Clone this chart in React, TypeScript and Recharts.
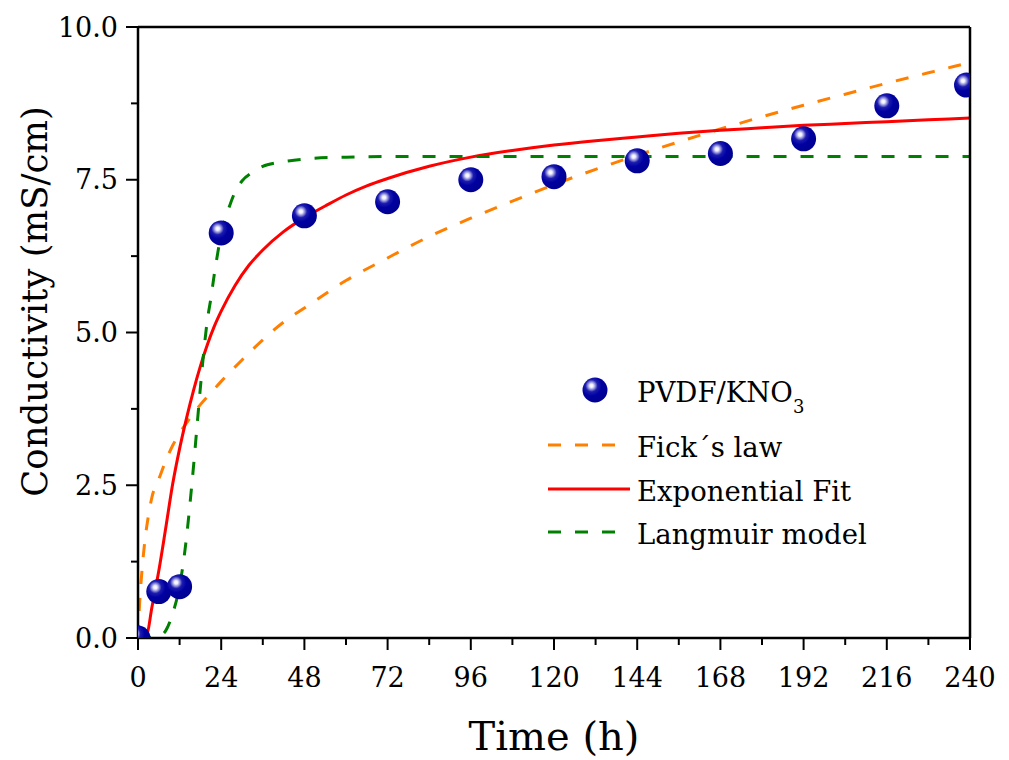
import React from 'react'
import { ComposedChart, Line, XAxis, YAxis, Legend } from 'recharts'

// measured conductivity, PVDF/KNO3
const sampleTime = [0, 6, 12, 24, 48, 72, 96, 120, 144, 168, 192, 216, 239]
const sampleCond = [0, 0.76, 0.84, 6.63, 6.91, 7.14, 7.5, 7.55, 7.81, 7.93, 8.17, 8.71, 9.05]

// Fick's law curve
const fickTime = [0, 0.5, 1, 2, 3, 4, 6, 8, 10, 12, 15, 18, 21, 24, 30, 36, 42, 48, 60, 72, 84, 96, 108, 120, 132, 144, 156, 168, 180, 192, 204, 216, 228, 240]
const fickCond = [0, 0.6, 1.0, 1.6, 2.0, 2.3, 2.6, 2.9, 3.15, 3.35, 3.6, 3.82, 4.01, 4.2, 4.55, 4.88, 5.17, 5.4, 5.85, 6.22, 6.57, 6.87, 7.15, 7.42, 7.67, 7.9, 8.12, 8.33, 8.53, 8.72, 8.9, 9.08, 9.25, 9.42]

// exponential fit
const expTime = [0, 2.5, 4, 6, 8, 10, 12, 14, 16, 18, 20, 22, 24, 28, 32, 36, 42, 48, 54, 60, 66, 72, 84, 96, 108, 120, 132, 144, 156, 168, 180, 192, 204, 216, 228, 240]
const expCond = [0, 0.05, 0.5, 1.1, 1.8, 2.52, 3.1, 3.6, 4.05, 4.45, 4.8, 5.1, 5.35, 5.77, 6.1, 6.35, 6.65, 6.88, 7.07, 7.25, 7.4, 7.52, 7.72, 7.87, 7.98, 8.07, 8.14, 8.2, 8.26, 8.31, 8.35, 8.39, 8.42, 8.45, 8.48, 8.51]

// Langmuir model
const langTime = [0, 4, 6, 8, 10, 12, 13, 14, 15, 16, 17, 18, 19, 20, 21, 22, 23, 24, 26, 28, 30, 33, 36, 40, 45, 50, 60, 72, 96, 120, 144, 168, 192, 216, 240]
const langCond = [0, 0.01, 0.03, 0.12, 0.4, 0.85, 1.2, 1.65, 2.2, 2.8, 3.45, 4.1, 4.7, 5.2, 5.55, 5.95, 6.3, 6.62, 7.0, 7.3, 7.48, 7.62, 7.72, 7.78, 7.82, 7.85, 7.87, 7.88, 7.88, 7.88, 7.88, 7.88, 7.88, 7.88, 7.88]

const xTicks = [0, 12, 24, 36, 48, 60, 72, 84, 96, 108, 120, 132, 144, 156, 168, 180, 192, 204, 216, 228, 240]
const xTopTicks = [0, 24, 48, 72, 96, 120, 144, 168, 192, 216, 240]
const yTicks = [0, 1.25, 2.5, 3.75, 5, 6.25, 7.5, 8.75, 10]
const yRightTicks = [0, 1, 2, 3, 4, 5, 6, 7, 8, 9, 10]

const FONT = "'DejaVu Serif', serif"
const TICK_MAJOR = 12
const TICK_MINOR = 7
const Y_TICK_MARGIN = 8

const toPoints = (ts: number[], vs: number[]) => ts.map((t, i) => ({ t, v: vs[i] }))

const samplePts = toPoints(sampleTime, sampleCond)
const fickPts = toPoints(fickTime, fickCond)
const expPts = toPoints(expTime, expCond)
const langPts = toPoints(langTime, langCond)

function SphereDefs({ id }: { id: string }) {
  return (
    <defs>
      <radialGradient id={id} cx='36%' cy='33%' r='68%' fx='36%' fy='33%'>
        <stop offset='0%' stopColor='#ffffff' />
        <stop offset='10%' stopColor='#eeeeff' />
        <stop offset='22%' stopColor='#9090dc' />
        <stop offset='36%' stopColor='#1c1cae' />
        <stop offset='60%' stopColor='#0000a2' />
        <stop offset='100%' stopColor='#000090' />
      </radialGradient>
    </defs>
  )
}

function Sphere(props: any) {
  const { cx, cy, index } = props
  if (cx == null || cy == null) return null
  return <circle key={`s-${index}`} cx={cx} cy={cy} r={12.5} fill='url(#sphereGrad)' />
}

function LeftTick(props: any) {
  const { x, y, payload } = props
  const major = Math.abs(payload.value % 2.5) < 1e-6
  const axisX = x + Y_TICK_MARGIN + TICK_MAJOR
  return (
    <g>
      <line
        x1={axisX - (major ? TICK_MAJOR : TICK_MINOR)}
        x2={axisX}
        y1={y}
        y2={y}
        stroke='#000'
        strokeWidth={2}
      />
      {major && (
        <text x={x} y={y} dy='0.36em' textAnchor='end' fontSize={27} fontFamily={FONT} fill='#000'>
          {payload.value.toFixed(1)}
        </text>
      )}
    </g>
  )
}

function BottomTick(props: any) {
  const { x, y, payload } = props
  const major = payload.value % 24 === 0
  const axisY = y - TICK_MAJOR
  return (
    <g>
      <line
        x1={x}
        x2={x}
        y1={axisY}
        y2={axisY + (major ? TICK_MAJOR : TICK_MINOR)}
        stroke='#000'
        strokeWidth={2}
      />
      {major && (
        <text x={x} y={axisY + 49} textAnchor='middle' fontSize={27} fontFamily={FONT} fill='#000'>
          {payload.value}
        </text>
      )}
    </g>
  )
}

function XTitle(props: any) {
  const { viewBox } = props
  return (
    <text
      x={viewBox.x + viewBox.width / 2}
      y={viewBox.y + 112}
      textAnchor='middle'
      fontSize={40}
      fontFamily={FONT}
      fill='#000'
    >
      Time (h)
    </text>
  )
}

function YTitle(props: any) {
  const { viewBox } = props
  const cx = viewBox.x + 47
  const cy = viewBox.y + viewBox.height / 2 - 31
  return (
    <text
      x={cx}
      y={cy}
      transform={`rotate(-90 ${cx} ${cy})`}
      textAnchor='middle'
      fontSize={35.5}
      fontFamily={FONT}
      fill='#000'
    >
      Conductivity (mS/cm)
    </text>
  )
}

function ChartLegend() {
  const txt = { fontSize: 27.5, fontFamily: FONT, fill: '#000' }
  return (
    <svg width={440} height={190}>
      <SphereDefs id='sphereGradLegend' />
      <circle cx={55} cy={21} r={12.5} fill='url(#sphereGradLegend)' />
      <text x={97} y={33} {...txt}>
        PVDF/KNO<tspan fontSize={18} dy={11}>3</tspan>
      </text>
      <line x1={8} x2={78} y1={76} y2={76} stroke='#ff8000' strokeWidth={3} strokeDasharray='13 14' />
      <text x={97} y={88} {...txt}>Fick´s law</text>
      <line x1={8} x2={90} y1={120} y2={120} stroke='#ff0000' strokeWidth={3} />
      <text x={97} y={132} {...txt}>Exponential Fit</text>
      <line x1={8} x2={78} y1={163} y2={163} stroke='#008000' strokeWidth={3} strokeDasharray='13 14' />
      <text x={97} y={175} {...txt}>Langmuir model</text>
    </svg>
  )
}

export default function App() {
  return (
    <div style={{ width: 1009, height: 760, background: '#fff' }}>
      <style>{'body{margin:0}'}</style>
      <ComposedChart
        width={1009}
        height={760}
        margin={{ top: 27, right: 39, left: 0, bottom: 0 }}
      >
        <SphereDefs id='sphereGrad' />
        <XAxis
          dataKey='t'
          type='number'
          domain={[0, 240]}
          ticks={xTicks}
          interval={0}
          allowDataOverflow
          height={122}
          tickSize={TICK_MAJOR}
          tickMargin={0}
          tickLine={false}
          tick={BottomTick}
          axisLine={{ stroke: '#000', strokeWidth: 2.5 }}
          label={XTitle}
        />
        <XAxis
          xAxisId='top'
          dataKey='t'
          type='number'
          orientation='top'
          mirror
          domain={[0, 240]}
          ticks={xTopTicks}
          interval={0}
          height={1}
          tickSize={4}
          tick={false}
          tickLine={{ stroke: '#000', strokeWidth: 1.5 }}
          axisLine={{ stroke: '#000', strokeWidth: 2.5 }}
        />
        <YAxis
          type='number'
          domain={[0, 10]}
          ticks={yTicks}
          interval={0}
          allowDataOverflow
          width={138}
          tickSize={TICK_MAJOR}
          tickMargin={Y_TICK_MARGIN}
          tickLine={false}
          tick={LeftTick}
          axisLine={{ stroke: '#000', strokeWidth: 2.5 }}
          label={YTitle}
        />
        <YAxis
          yAxisId='right'
          type='number'
          orientation='right'
          mirror
          domain={[0, 10]}
          ticks={yRightTicks}
          interval={0}
          width={1}
          tickSize={3}
          tick={false}
          tickLine={{ stroke: '#000', strokeWidth: 1.5 }}
          axisLine={{ stroke: '#000', strokeWidth: 2.5 }}
        />
        {/* measured points: spheres only, drawn first so the model curves lie on top */}
        <Line
          name='PVDF/KNO3'
          data={samplePts}
          dataKey='v'
          stroke='none'
          dot={Sphere}
          activeDot={false}
          isAnimationActive={false}
        />
        <Line
          name='Fick´s law'
          data={fickPts}
          dataKey='v'
          type='monotone'
          stroke='#ff8000'
          strokeWidth={3}
          strokeDasharray='13 14'
          dot={false}
          activeDot={false}
          isAnimationActive={false}
        />
        <Line
          name='Exponential Fit'
          data={expPts}
          dataKey='v'
          type='monotone'
          stroke='#ff0000'
          strokeWidth={3}
          dot={false}
          activeDot={false}
          isAnimationActive={false}
        />
        <Line
          name='Langmuir model'
          data={langPts}
          dataKey='v'
          type='monotone'
          stroke='#008000'
          strokeWidth={3}
          strokeDasharray='13 14'
          dot={false}
          activeDot={false}
          isAnimationActive={false}
        />
        <Legend
          layout='vertical'
          align='center'
          verticalAlign='middle'
          wrapperStyle={{ left: 540, top: 369, width: 440, height: 190 }}
          content={ChartLegend}
        />
      </ComposedChart>
    </div>
  )
}
